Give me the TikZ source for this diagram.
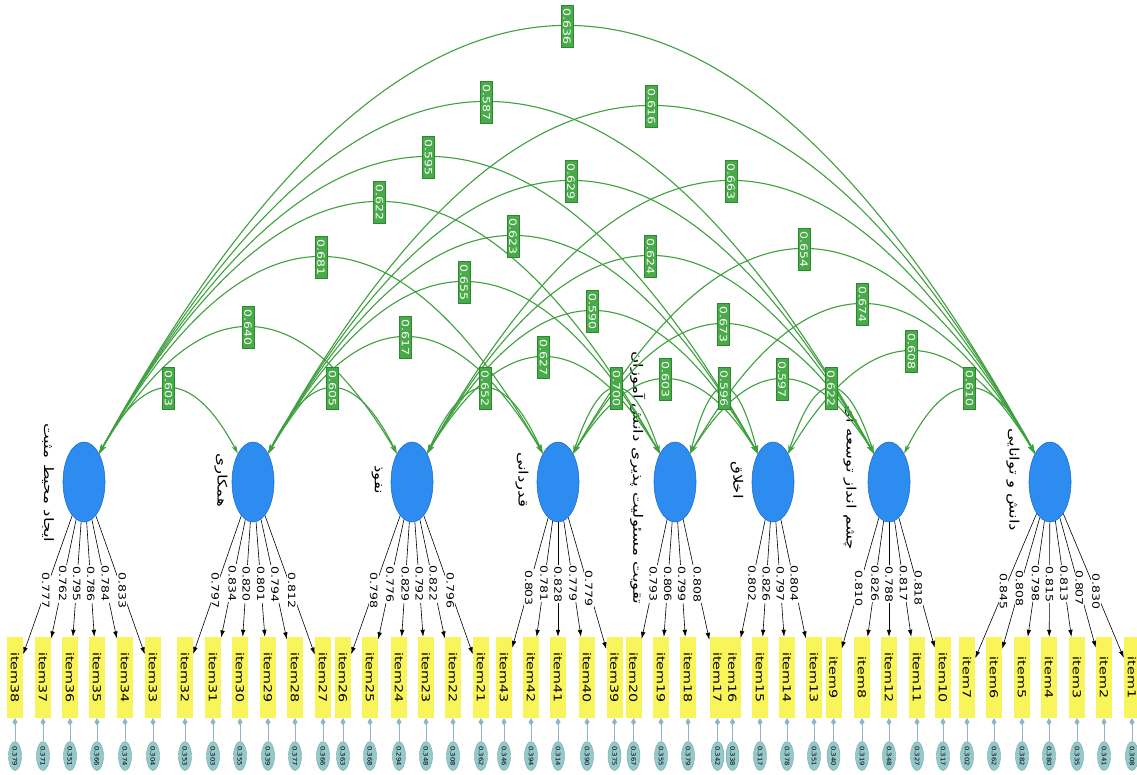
\documentclass[tikz,border=0pt]{standalone}
\usepackage{graphicx}
\usepackage{fontspec}
\setmainfont{DejaVu Sans}
\newfontfamily\fa[Script=Arabic]{DejaVu Sans}
\TeXXeTstate=1
\usetikzlibrary{shapes.geometric,arrows.meta,calc}
\definecolor{latfill}{RGB}{45,140,240}
\definecolor{latdraw}{RGB}{30,110,210}
\definecolor{itemfill}{RGB}{248,244,90}
\definecolor{errfill}{RGB}{150,200,202}
\definecolor{errdraw}{RGB}{110,170,175}
\definecolor{elinkc}{RGB}{140,182,200}
\definecolor{corrgreen}{RGB}{62,160,62}
\definecolor{clabfill}{RGB}{72,170,72}
\definecolor{clabdraw}{RGB}{45,135,45}
\newcommand\sx[1]{\scalebox{1.25}[1]{#1}}
\newcommand\sxi[1]{\scalebox{1.3}[1]{#1}}
\newcommand\sxe[1]{\scalebox{1.1}[1]{#1}}
\newcommand\sxp[1]{\scalebox{1.28}[1]{#1}}
\tikzset{
  latent/.style={ellipse, fill=latfill, draw=latdraw, line width=0.6pt,
    minimum width=42pt, minimum height=80pt, inner sep=0pt},
  itembox/.style={rectangle, fill=itemfill, draw=none, rotate=-90,
    minimum width=81pt, minimum height=16pt, inner sep=0pt,
    font=\fontsize{11}{11}\selectfont},
  errnode/.style={ellipse, fill=errfill, draw=errdraw, line width=0.4pt,
    rotate=-90, minimum width=29pt, minimum height=13pt, inner sep=0pt,
    font=\fontsize{6.2}{6.2}\selectfont},
  plabel/.style={rotate=-90, inner sep=0pt, font=\fontsize{13}{13}\fa},
  corr/.style={draw=corrgreen, line width=1.1pt,
    {Stealth[length=9pt,width=5pt]}-{Stealth[length=9pt,width=5pt]}},
  clabel/.style={rotate=-90, fill=clabfill, draw=clabdraw, line width=0.5pt,
    text=white, inner xsep=3pt, inner ysep=2pt, font=\fontsize{10}{10}\selectfont},
  load/.style={draw=black, line width=0.6pt, -{Latex[length=7pt,width=4.5pt]}},
  llabel/.style={rotate=-90, fill=white, inner sep=1pt,
    font=\fontsize{10}{10}\selectfont},
  elink/.style={draw=elinkc, line width=1pt, -{Kite[length=7pt,width=5pt,inset=3pt]}},
}
\begin{document}
\begin{tikzpicture}[x=1pt,y=-1pt]
\fill[white] (0,0) rectangle (1137,774);
\useasboundingbox (0,0) rectangle (1137,774);

% latent variables
\node[latent] (L1) at (84,482) {};
\node[latent] (L2) at (253,482) {};
\node[latent] (L3) at (412,482) {};
\node[latent] (L4) at (558,482) {};
\node[latent] (L5) at (675,482) {};
\node[latent] (L6) at (773,482) {};
\node[latent] (L7) at (889,482) {};
\node[latent] (L8) at (1050,482) {};

\node[plabel] (t1) at ($(L1)+(-36,1)$) {\sxp{\beginR ایجاد محیط مثبت\endR}};
\node[plabel] (t2) at ($(L2)+(-32,-2)$) {\sxp{\beginR همکاری\endR}};
\node[plabel] (t3) at ($(L3)+(-35,-2)$) {\sxp{\beginR نفوذ\endR}};
\node[plabel] (t4) at ($(L4)+(-36,-2)$) {\sxp{\beginR قدردانی\endR}};
\node[plabel] (t5) at ($(L5)+(-37,-4)$) {\sxp{\beginR تقویت مسئولیت پذیری دانش آموزان\endR}};
\node[plabel] (t6) at ($(L6)+(-36,-2)$) {\sxp{\beginR اخلاق\endR}};
\node[plabel] (t7) at ($(L7)+(-39,-4)$) {\sxp{\beginR چشم انداز توسعه ای\endR}};
\node[plabel] (t8) at ($(L8)+(-37,-2)$) {\sxp{\beginR دانش و توانایی\endR}};

% items and error terms
\foreach \n/\x/\e in {38/15/0.379, 37/43/0.371, 36/70/0.351, 35/97/0.366,
  34/125/0.374, 33/153/0.304, 32/185/0.353, 31/213/0.303, 30/240/0.355,
  29/268/0.339, 28/295/0.377, 27/323/0.366, 26/343/0.363, 25/370/0.368,
  24/399/0.294, 23/426/0.348, 22/453/0.308, 21/481/0.362, 43/504/0.346,
  42/531/0.394, 41/558/0.314, 40/587/0.390, 39/614.5/0.375, 20/633.5/0.367,
  19/661/0.355, 18/688/0.379, 17/717.5/0.342, 16/732.5/0.338, 15/760/0.317,
  14/787/0.378, 13/814/0.351, 9/833.5/0.340, 8/862/0.319, 12/889/0.348,
  11/917/0.327, 10/943/0.317, 7/967/0.302, 6/994/0.362, 5/1022/0.382,
  4/1049/0.380, 3/1077/0.335, 2/1104/0.341, 1/1132/0.308}{
  \node[itembox] (i\n) at (\x,677.5) {\sxi{item\n}};
  \node[errnode] (e\n) at (\x,756) {\sxe{\e}};
  \draw[elink] (e\n) -- (i\n);
}

% loadings
\foreach \l/\n/\v in {1/38/0.777, 1/37/0.762, 1/36/0.795, 1/35/0.786, 1/34/0.784, 1/33/0.833,
  2/32/0.797, 2/31/0.834, 2/30/0.820, 2/29/0.801, 2/28/0.794, 2/27/0.812,
  3/26/0.798, 3/25/0.776, 3/24/0.829, 3/23/0.792, 3/22/0.822, 3/21/0.796,
  4/43/0.803, 4/42/0.781, 4/41/0.828, 4/40/0.779, 4/39/0.779,
  5/20/0.793, 5/19/0.806, 5/18/0.799, 5/17/0.808,
  6/16/0.802, 6/15/0.826, 6/14/0.797, 6/13/0.804,
  7/9/0.810, 7/8/0.826, 7/12/0.788, 7/11/0.817, 7/10/0.818,
  8/7/0.845, 8/6/0.808, 8/5/0.798, 8/4/0.815, 8/3/0.813, 8/2/0.807, 8/1/0.830}{
  \draw[load] (L\l) -- node[llabel, pos=0.54] (w\n) {\sx{\v}} (i\n);
}

% correlations
\foreach \a/\b/\c in {1/2/389, 2/3/389, 3/4/389, 4/5/389, 5/6/389, 6/7/389, 7/8/389,
  1/3/328, 2/4/338, 3/5/358, 4/6/380, 5/7/380, 6/8/352,
  1/4/258, 2/5/283, 3/6/312, 4/7/325, 5/8/305,
  1/5/203, 2/6/237, 3/7/257, 4/8/250,
  1/6/158, 2/7/182, 3/8/182,
  1/7/103, 2/8/107, 1/8/27}{
  \draw[corr] (L\a.62) .. controls ($(L\a.62)!1/3!(L\b.118)+(0,{-4/3*(454-\c)})$)
    and ($(L\a.62)!2/3!(L\b.118)+(0,{-4/3*(454-\c)})$) ..
    coordinate[pos=0.5] (c\a\b) (L\b.118);
}
\foreach \a/\b/\d in {1/2/0.603, 2/3/0.605, 3/4/0.652, 4/5/0.700, 5/6/0.596, 6/7/0.622, 7/8/0.610,
  1/3/0.640, 2/4/0.617, 3/5/0.627, 4/6/0.603, 5/7/0.597, 6/8/0.608,
  1/4/0.681, 2/5/0.655, 3/6/0.590, 4/7/0.673, 5/8/0.674,
  1/5/0.622, 2/6/0.623, 3/7/0.624, 4/8/0.654,
  1/6/0.595, 2/7/0.629, 3/8/0.663,
  1/7/0.587, 2/8/0.616, 1/8/0.636}{
  \node[clabel] (k\a\b) at (c\a\b) {\sx{\d}};
}
\end{tikzpicture}
\end{document}
